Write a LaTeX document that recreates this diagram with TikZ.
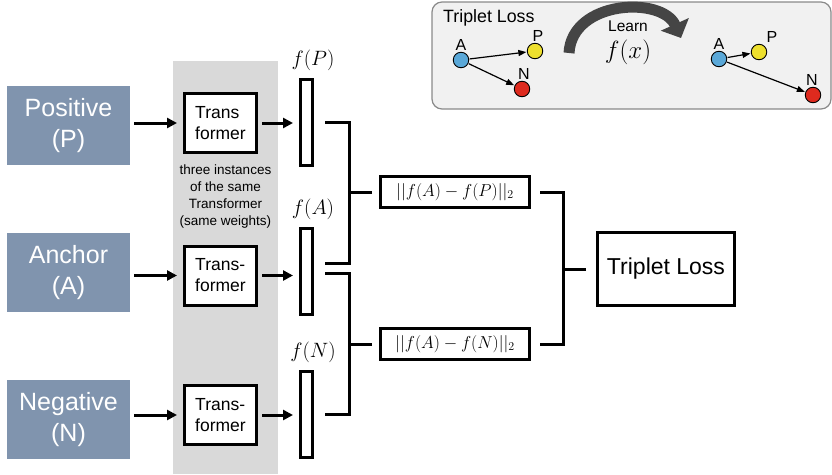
\documentclass[tikz,border=0pt]{standalone}
\usepackage{fontspec}
\setmainfont{Liberation Sans}
\usepackage{tikz}
\usetikzlibrary{positioning,arrows.meta,calc}
\definecolor{inblue}  {HTML}{8094AE}
\definecolor{band}    {HTML}{D9D9D9}
\definecolor{panel}   {HTML}{F1F1F1}
\definecolor{panelrim}{HTML}{8A8A8A}
\definecolor{swoosh}  {HTML}{454545}
\definecolor{dotA}    {HTML}{5AA8D8}
\definecolor{dotP}    {HTML}{EEE02E}
\definecolor{dotN}    {HTML}{DE2A1E}

\begin{document}
\begin{tikzpicture}[x=1pt,y=-1pt,
    inbox/.style={fill=inblue,text=white,minimum width=123pt,minimum height=79pt,
                  inner sep=0pt,align=center,font=\fontsize{25}{31}\selectfont},
    tbox/.style={draw,line width=3pt,fill=white,minimum width=72pt,minimum height=59pt,
                 inner sep=0pt,align=left,font=\fontsize{17.5}{21}\selectfont},
    emb/.style={draw,line width=3pt,fill=white,minimum width=12pt,minimum height=86pt,inner sep=0pt},
    dbox/.style={draw,line width=3pt,fill=white,minimum width=149pt,minimum height=31pt,
                 inner sep=0pt,font=\fontsize{17.5}{20}\selectfont},
    feed/.style={line width=3pt,-{Triangle[length=10pt,width=10pt]},shorten <=4pt,shorten >=6pt},
    wire/.style={line width=3pt},
    dot/.style={circle,draw,line width=0.9pt,minimum size=15.5pt,inner sep=0pt},
    dotlbl/.style={font=\fontsize{16}{18}\selectfont,anchor=south,inner sep=1pt},
    tiny/.style={line width=1.2pt,-{Triangle[length=8pt,width=6pt]},shorten <=0.5pt,shorten >=0.5pt}]
  \useasboundingbox (0,0) rectangle (832,474);
  % shared weights
  \fill[band] (173,61) rectangle (278,474);
  \node[align=center,font=\fontsize{13.5}{17}\selectfont] (note) at (225.5,197)
       {three instances\\of the same\\Transformer\\(same weights)};
  % three branches
  \foreach \id/\txt/\tf/\y/\ty/\ey in {P/{Positive\\(P)}/{Trans\\former}/125.5/123/122.5,
                                   A/{Anchor\\(A)}/{Trans-\\former}/272.5/275.5/271,
                                   N/{Negative\\(N)}/{Trans-\\former}/419.5/415/414}{
    \node[inbox] (in\id) at (68.5,\y) {\txt};
    \node[tbox] (t\id) at (220.5,\ty) {\tf};
    \node[emb] (e\id) at (306.5,\ey) {};
    \node[font=\fontsize{20}{23}\selectfont] (lbl\id) at (313,\ey-62) {$f(\id)$};
    \draw[feed] (in\id.east|-t\id) -- (t\id.west);
    \draw[feed] (t\id.east) -- (e\id.west|-t\id);}
  % distances
  \node[dbox] (dAP) at (455,192) {$||f(A)-f(P)||_2$};
  \node[dbox] (dAN) at (455,344) {$||f(A)-f(N)||_2$};
  \node[draw,line width=3pt,minimum width=137pt,minimum height=73pt,
        font=\fontsize{23}{27}\selectfont] (loss) at (666,269) {Triplet Loss};
  \draw[wire] ([xshift=11pt]eP.east) -- ++(24,0) |- ([xshift=11pt,yshift=8pt]eA.east);
  \draw[wire] ([xshift=-7pt]dAP.west) -- ++(-23,0);
  \draw[wire] ([xshift=11pt,yshift=-2pt]eA.east) -- ++(24,0) |- ([xshift=11pt]eN.east);
  \draw[wire] ([xshift=-7pt]dAN.west) -- ++(-23,0);
  \draw[wire] ([xshift=9pt]dAP.east) -- ++(23,0) |- ([xshift=9pt]dAN.east);
  \draw[wire] ([xshift=-10pt]loss.west) -- ++(-23,0);
  % inset
  \draw[fill=panel,draw=panelrim,line width=1.2pt,rounded corners=10pt] (432,2) rectangle (831,109);
  \node[anchor=west,font=\fontsize{17.8}{20}\selectfont,inner sep=0pt] (title) at (443,18) {Triplet Loss};
  \node[dot,fill=dotA] (a1) at (461,60) {};
  \node[dot,fill=dotP] (p1) at (535,51) {};
  \node[dot,fill=dotN] (n1) at (522,89) {};
  \node[dot,fill=dotA] (a2) at (719,59) {};
  \node[dot,fill=dotP] (p2) at (759,52) {};
  \node[dot,fill=dotN] (n2) at (813,95) {};
  \foreach \d/\c/\dx in {a1/A/0,p1/P/3,n1/N/2,a2/A/0,p2/P/13,n2/N/-1}{
    \node[dotlbl] (l\d) at ([xshift=\dx pt]\d.north) {\c};}
  \draw[tiny] (a1) -- (p1);
  \draw[tiny] (a1) -- (n1);
  \draw[tiny] (a2) -- (p2);
  \draw[tiny] (a2) -- (n2);
  \coordinate (swfrom) at (569,53);
  \coordinate (swto) at (681,38);
  \draw[swoosh,line width=11pt,-{Triangle[length=15pt,width=30pt]}]
       (swfrom) .. controls (572,0) and (662,-4) .. (swto);
  \node[font=\fontsize{15.5}{18}\selectfont] (learn) at (628,26) {Learn};
  \node[font=\fontsize{23}{26}\selectfont] (fx) at (628,52) {$f(x)$};
\end{tikzpicture}
\end{document}
